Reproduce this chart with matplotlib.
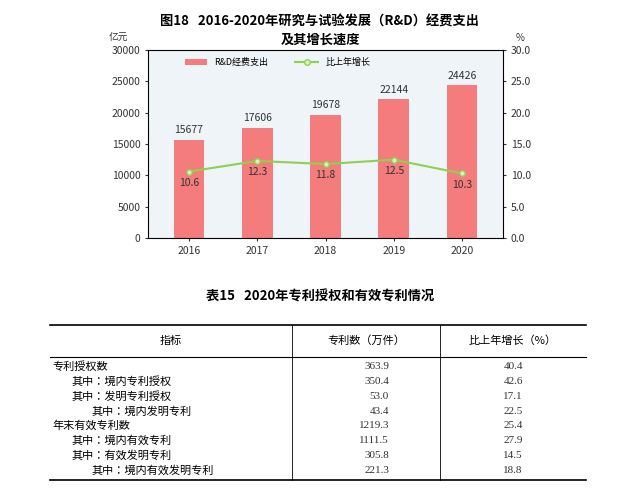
import matplotlib.pyplot as plt
from matplotlib import font_manager

# 找一个可用的中文字体
cjk = [f.name for f in font_manager.fontManager.ttflist if 'CJK' in f.name]
cjk_name = next((n for n in cjk if 'SC' in n), cjk[0] if cjk else 'DejaVu Sans')
plt.rcParams['font.family'] = 'sans-serif'
plt.rcParams['font.sans-serif'] = [cjk_name, 'DejaVu Sans']
plt.rcParams['axes.unicode_minus'] = False

# 图18 数据
years = ['2016', '2017', '2018', '2019', '2020']
rd_spend = [15677, 17606, 19678, 22144, 24426]
growth = [10.6, 12.3, 11.8, 12.5, 10.3]

# 表15 数据
row_labels = ['专利授权数', '其中：境内专利授权', '其中：发明专利授权', '其中：境内发明专利',
              '年末有效专利数', '其中：境内有效专利', '其中：有效发明专利', '其中：境内有效发明专利']
row_indent = [0, 1, 1, 2, 0, 1, 1, 2]
patents = ['363.9', '350.4', '53.0', '43.4', '1219.3', '1111.5', '305.8', '221.3']
patent_growth = ['40.4', '42.6', '17.1', '22.5', '25.4', '27.9', '14.5', '18.8']

W, H = 640, 493
fig = plt.figure(figsize=(6.4, 4.93), dpi=100)

def fx(px):
    return px / W

def fy(py):
    return 1 - py / H

# 柱状图
ax = fig.add_axes([fx(148), fy(238), fx(503 - 148), fy(50) - fy(238)])
ax.set_facecolor('#eef4f7')
x = range(len(years))
ax.bar(x, rd_spend, width=0.45, color='#f47c7c', label='R&D经费支出', zorder=2)
for i, v in enumerate(rd_spend):
    ax.text(i, v + 700, str(v), ha='center', va='bottom', fontsize=7.5, color='#333333')
ax.set_ylim(0, 30000)
ax.set_yticks(range(0, 30001, 5000))
ax.set_xlim(-0.6, 4.6)
ax.set_xticks(list(x))
ax.set_xticklabels(years)
ax.tick_params(labelsize=7.5, colors='#333333', length=2)
for s in ax.spines.values():
    s.set_color('#888888')
    s.set_linewidth(0.6)

ax2 = ax.twinx()
ax2.plot(list(x), growth, color='#8fd14f', lw=1.5, marker='o', ms=4,
         mfc='#dff0c8', mec='#8fd14f', label='比上年增长', zorder=3)
for i, v in enumerate(growth):
    ax2.text(i, v - 1.0, f'{v:.1f}', ha='center', va='top', fontsize=7.5, color='#333333')
ax2.set_ylim(0, 30)
ax2.set_yticks([0, 5, 10, 15, 20, 25, 30])
ax2.set_yticklabels([f'{t:.1f}' for t in [0, 5, 10, 15, 20, 25, 30]])
ax2.tick_params(labelsize=7.5, colors='#333333', length=2)

h1, l1 = ax.get_legend_handles_labels()
h2, l2 = ax2.get_legend_handles_labels()
ax.legend(h1 + h2, l1 + l2, loc='upper left', ncol=2, frameon=False, fontsize=6.5,
          bbox_to_anchor=(0.08, 1.0), handlelength=2.5, columnspacing=3)

fig.text(fx(320), fy(22), '图18   2016-2020年研究与试验发展（R&D）经费支出', ha='center', va='center',
         fontsize=9.5, fontweight='bold')
fig.text(fx(320), fy(40), '及其增长速度', ha='center', va='center', fontsize=9.5, fontweight='bold')
fig.text(fx(118), fy(38), '亿元', ha='center', va='center', fontsize=7, color='#333333')
fig.text(fx(520), fy(38), '%', ha='center', va='center', fontsize=7, color='#333333')

# 表格
fig.text(fx(320), fy(296), '表15   2020年专利授权和有效专利情况', ha='center', va='center',
         fontsize=9.5, fontweight='bold')
tab = fig.add_axes([0, 0, 1, 1])
tab.set_xlim(0, W)
tab.set_ylim(H, 0)
tab.axis('off')
left, right = 50, 586
col1, col2 = 292, 440
top, head, bottom = 325, 357, 480
tab.plot([left, right], [top, top], color='black', lw=1.2)
tab.plot([left, right], [head, head], color='black', lw=0.8)
tab.plot([left, right], [bottom, bottom], color='black', lw=1.2)
tab.plot([col1, col1], [top, bottom], color='black', lw=0.6)
tab.plot([col2, col2], [top, bottom], color='black', lw=0.6)
tab.text((left + col1) / 2, (top + head) / 2, '指标', ha='center', va='center', fontsize=8)
tab.text((col1 + col2) / 2, (top + head) / 2, '专利数（万件）', ha='center', va='center', fontsize=8)
tab.text((col2 + right) / 2, (top + head) / 2, '比上年增长（%）', ha='center', va='center', fontsize=8)
row_h = (bottom - head - 4) / len(row_labels)
for i, lab in enumerate(row_labels):
    yy = head + 2 + row_h * (i + 0.5)
    tab.text(left + 2 + row_indent[i] * 20, yy, lab, ha='left', va='center', fontsize=8)
    tab.text(col1 + 97, yy, patents[i], ha='right', va='center', fontsize=8,
             fontfamily='Liberation Serif', color='#333333')
    tab.text((col2 + right) / 2, yy, patent_growth[i], ha='center', va='center', fontsize=8,
             fontfamily='Liberation Serif', color='#333333')

fig.savefig('out.png', dpi=100, facecolor='white')
